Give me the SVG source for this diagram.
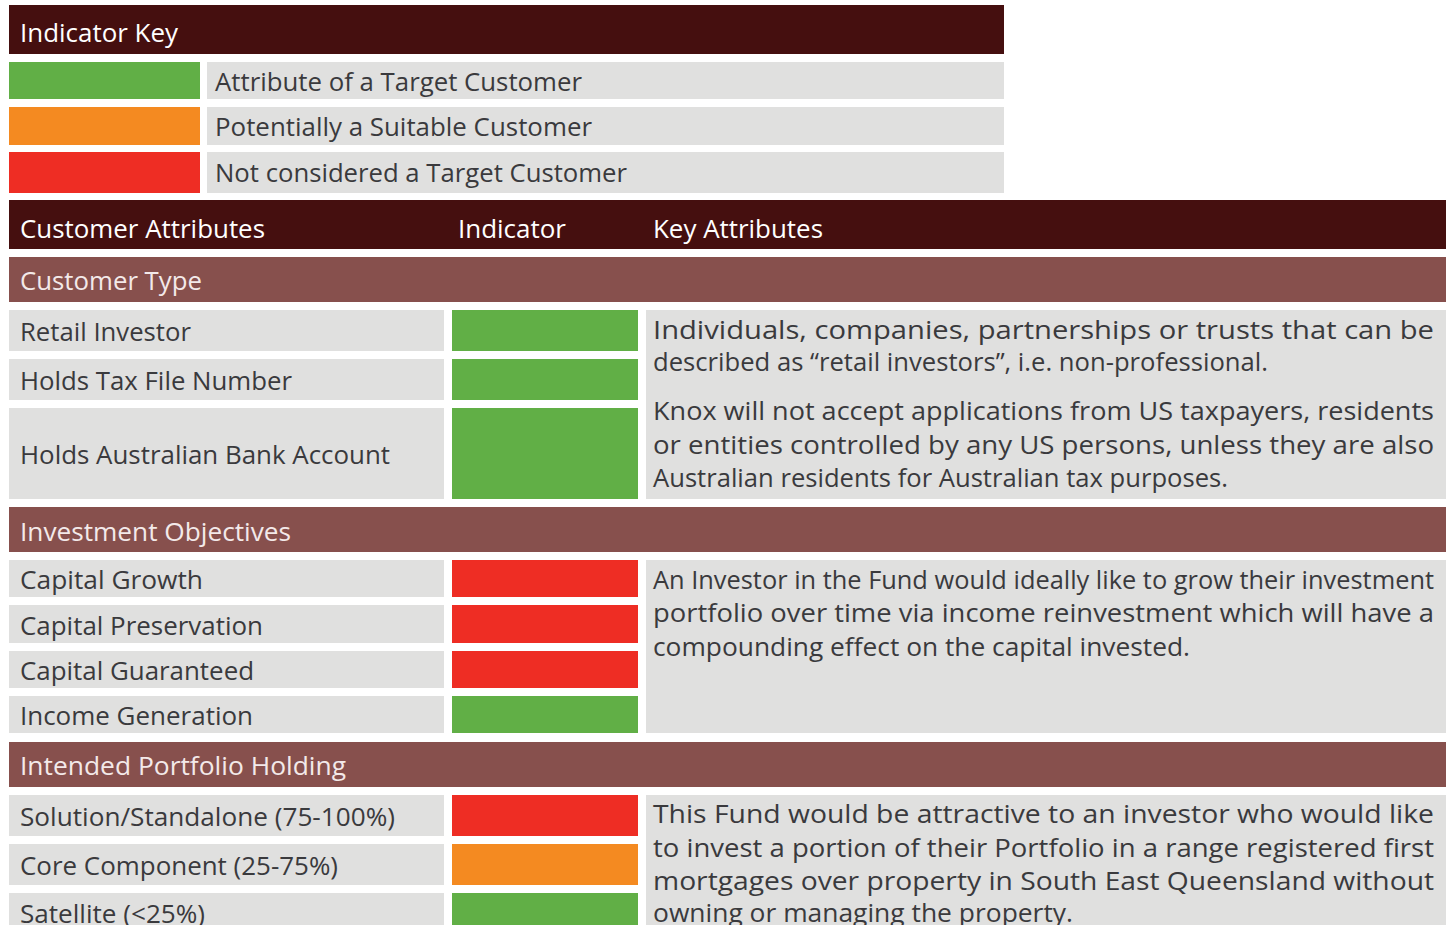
<svg xmlns="http://www.w3.org/2000/svg" width="1452" height="925" viewBox="0 0 1452 925">
<style>
.hd{fill:#450F0F}
.bd{fill:#87504D}
.gr{fill:#E0E0DF}
.g{fill:#61AF46}
.o{fill:#F48A21}
.r{fill:#EE2D24}
text{font-family:"Open Sans","Noto Sans",sans-serif;font-size:26px}
.wt{fill:#FFFFFF}
.bt{fill:#F3E9E9}
.dt{fill:#3A3A3D}
</style>
<rect width="1452" height="925" fill="#FFFFFF"/>
<g id="indicator-key">
<rect class="hd" x="9" y="5" width="995" height="49"/>
<text class="wt" x="20" y="42" textLength="158" lengthAdjust="spacingAndGlyphs">Indicator Key</text>
</g>
<g id="key-green">
<rect class="g" x="9" y="62" width="191" height="37"/>
<rect class="gr" x="207" y="62" width="797" height="37"/>
<text class="dt" x="215" y="91" textLength="367" lengthAdjust="spacingAndGlyphs">Attribute of a Target Customer</text>
</g>
<g id="key-orange">
<rect class="o" x="9" y="107" width="191" height="38"/>
<rect class="gr" x="207" y="107" width="797" height="38"/>
<text class="dt" x="215" y="136" textLength="377" lengthAdjust="spacingAndGlyphs">Potentially a Suitable Customer</text>
</g>
<g id="key-red">
<rect class="r" x="9" y="152" width="191" height="41"/>
<rect class="gr" x="207" y="152" width="797" height="41"/>
<text class="dt" x="215" y="182" textLength="412" lengthAdjust="spacingAndGlyphs">Not considered a Target Customer</text>
</g>
<g id="table-header">
<rect class="hd" x="9" y="200" width="1437" height="49"/>
<text class="wt" x="20" y="238" textLength="245" lengthAdjust="spacingAndGlyphs">Customer Attributes</text>
<text class="wt" x="458" y="238" textLength="108" lengthAdjust="spacingAndGlyphs">Indicator</text>
<text class="wt" x="653" y="238" textLength="170" lengthAdjust="spacingAndGlyphs">Key Attributes</text>
</g>
<g id="customer-type">
<rect class="bd" x="9" y="257" width="1437" height="45"/>
<text class="bt" x="20" y="290" textLength="182" lengthAdjust="spacingAndGlyphs">Customer Type</text>
</g>
<g id="retail-investor">
<rect class="gr" x="9" y="310" width="435" height="41"/>
<rect class="g" x="452" y="310" width="186" height="41"/>
<text class="dt" x="20" y="341" textLength="171" lengthAdjust="spacingAndGlyphs">Retail Investor</text>
</g>
<g id="holds-tfn">
<rect class="gr" x="9" y="359" width="435" height="41"/>
<rect class="g" x="452" y="359" width="186" height="41"/>
<text class="dt" x="20" y="390" textLength="272" lengthAdjust="spacingAndGlyphs">Holds Tax File Number</text>
</g>
<g id="holds-bank">
<rect class="gr" x="9" y="408" width="435" height="91"/>
<rect class="g" x="452" y="408" width="186" height="91"/>
<text class="dt" x="20" y="464" textLength="370" lengthAdjust="spacingAndGlyphs">Holds Australian Bank Account</text>
</g>
<g id="customer-type-key">
<rect class="gr" x="646" y="310" width="800" height="189"/>
<text class="dt" x="653" y="339" textLength="781" lengthAdjust="spacingAndGlyphs">Individuals, companies, partnerships or trusts that can be</text>
<text class="dt" x="653" y="371" textLength="615" lengthAdjust="spacingAndGlyphs">described as “retail investors”, i.e. non-professional.</text>
<text class="dt" x="653" y="420" textLength="781" lengthAdjust="spacingAndGlyphs">Knox will not accept applications from US taxpayers, residents</text>
<text class="dt" x="653" y="454" textLength="781" lengthAdjust="spacingAndGlyphs">or entities controlled by any US persons, unless they are also</text>
<text class="dt" x="653" y="487" textLength="575" lengthAdjust="spacingAndGlyphs">Australian residents for Australian tax purposes.</text>
</g>
<g id="investment-objectives">
<rect class="bd" x="9" y="507" width="1437" height="45"/>
<text class="bt" x="20" y="541" textLength="271" lengthAdjust="spacingAndGlyphs">Investment Objectives</text>
</g>
<g id="capital-growth">
<rect class="gr" x="9" y="560" width="435" height="37"/>
<rect class="r" x="452" y="560" width="186" height="37"/>
<text class="dt" x="20" y="589" textLength="183" lengthAdjust="spacingAndGlyphs">Capital Growth</text>
</g>
<g id="capital-preservation">
<rect class="gr" x="9" y="605" width="435" height="38"/>
<rect class="r" x="452" y="605" width="186" height="38"/>
<text class="dt" x="20" y="635" textLength="243" lengthAdjust="spacingAndGlyphs">Capital Preservation</text>
</g>
<g id="capital-guaranteed">
<rect class="gr" x="9" y="651" width="435" height="37"/>
<rect class="r" x="452" y="651" width="186" height="37"/>
<text class="dt" x="20" y="680" textLength="234" lengthAdjust="spacingAndGlyphs">Capital Guaranteed</text>
</g>
<g id="income-generation">
<rect class="gr" x="9" y="696" width="435" height="37"/>
<rect class="g" x="452" y="696" width="186" height="37"/>
<text class="dt" x="20" y="725" textLength="233" lengthAdjust="spacingAndGlyphs">Income Generation</text>
</g>
<g id="investment-objectives-key">
<rect class="gr" x="646" y="560" width="800" height="173"/>
<text class="dt" x="653" y="589" textLength="781" lengthAdjust="spacingAndGlyphs">An Investor in the Fund would ideally like to grow their investment</text>
<text class="dt" x="653" y="622" textLength="781" lengthAdjust="spacingAndGlyphs">portfolio over time via income reinvestment which will have a</text>
<text class="dt" x="653" y="656" textLength="537" lengthAdjust="spacingAndGlyphs">compounding effect on the capital invested.</text>
</g>
<g id="intended-portfolio-holding">
<rect class="bd" x="9" y="742" width="1437" height="45"/>
<text class="bt" x="20" y="775" textLength="326" lengthAdjust="spacingAndGlyphs">Intended Portfolio Holding</text>
</g>
<g id="solution-standalone">
<rect class="gr" x="9" y="795" width="435" height="41"/>
<rect class="r" x="452" y="795" width="186" height="41"/>
<text class="dt" x="20" y="826" textLength="375" lengthAdjust="spacingAndGlyphs">Solution/Standalone (75-100%)</text>
</g>
<g id="core-component">
<rect class="gr" x="9" y="844" width="435" height="41"/>
<rect class="o" x="452" y="844" width="186" height="41"/>
<text class="dt" x="20" y="875" textLength="318" lengthAdjust="spacingAndGlyphs">Core Component (25-75%)</text>
</g>
<g id="satellite">
<rect class="gr" x="9" y="893" width="435" height="40"/>
<rect class="g" x="452" y="893" width="186" height="40"/>
<text class="dt" x="20" y="923" textLength="185" lengthAdjust="spacingAndGlyphs">Satellite (&lt;25%)</text>
</g>
<g id="intended-portfolio-key">
<rect class="gr" x="646" y="795" width="800" height="138"/>
<text class="dt" x="653" y="823" textLength="781" lengthAdjust="spacingAndGlyphs">This Fund would be attractive to an investor who would like</text>
<text class="dt" x="653" y="857" textLength="781" lengthAdjust="spacingAndGlyphs">to invest a portion of their Portfolio in a range registered first</text>
<text class="dt" x="653" y="890" textLength="781" lengthAdjust="spacingAndGlyphs">mortgages over property in South East Queensland without</text>
<text class="dt" x="653" y="922" textLength="420" lengthAdjust="spacingAndGlyphs">owning or managing the property.</text>
</g>
</svg>
